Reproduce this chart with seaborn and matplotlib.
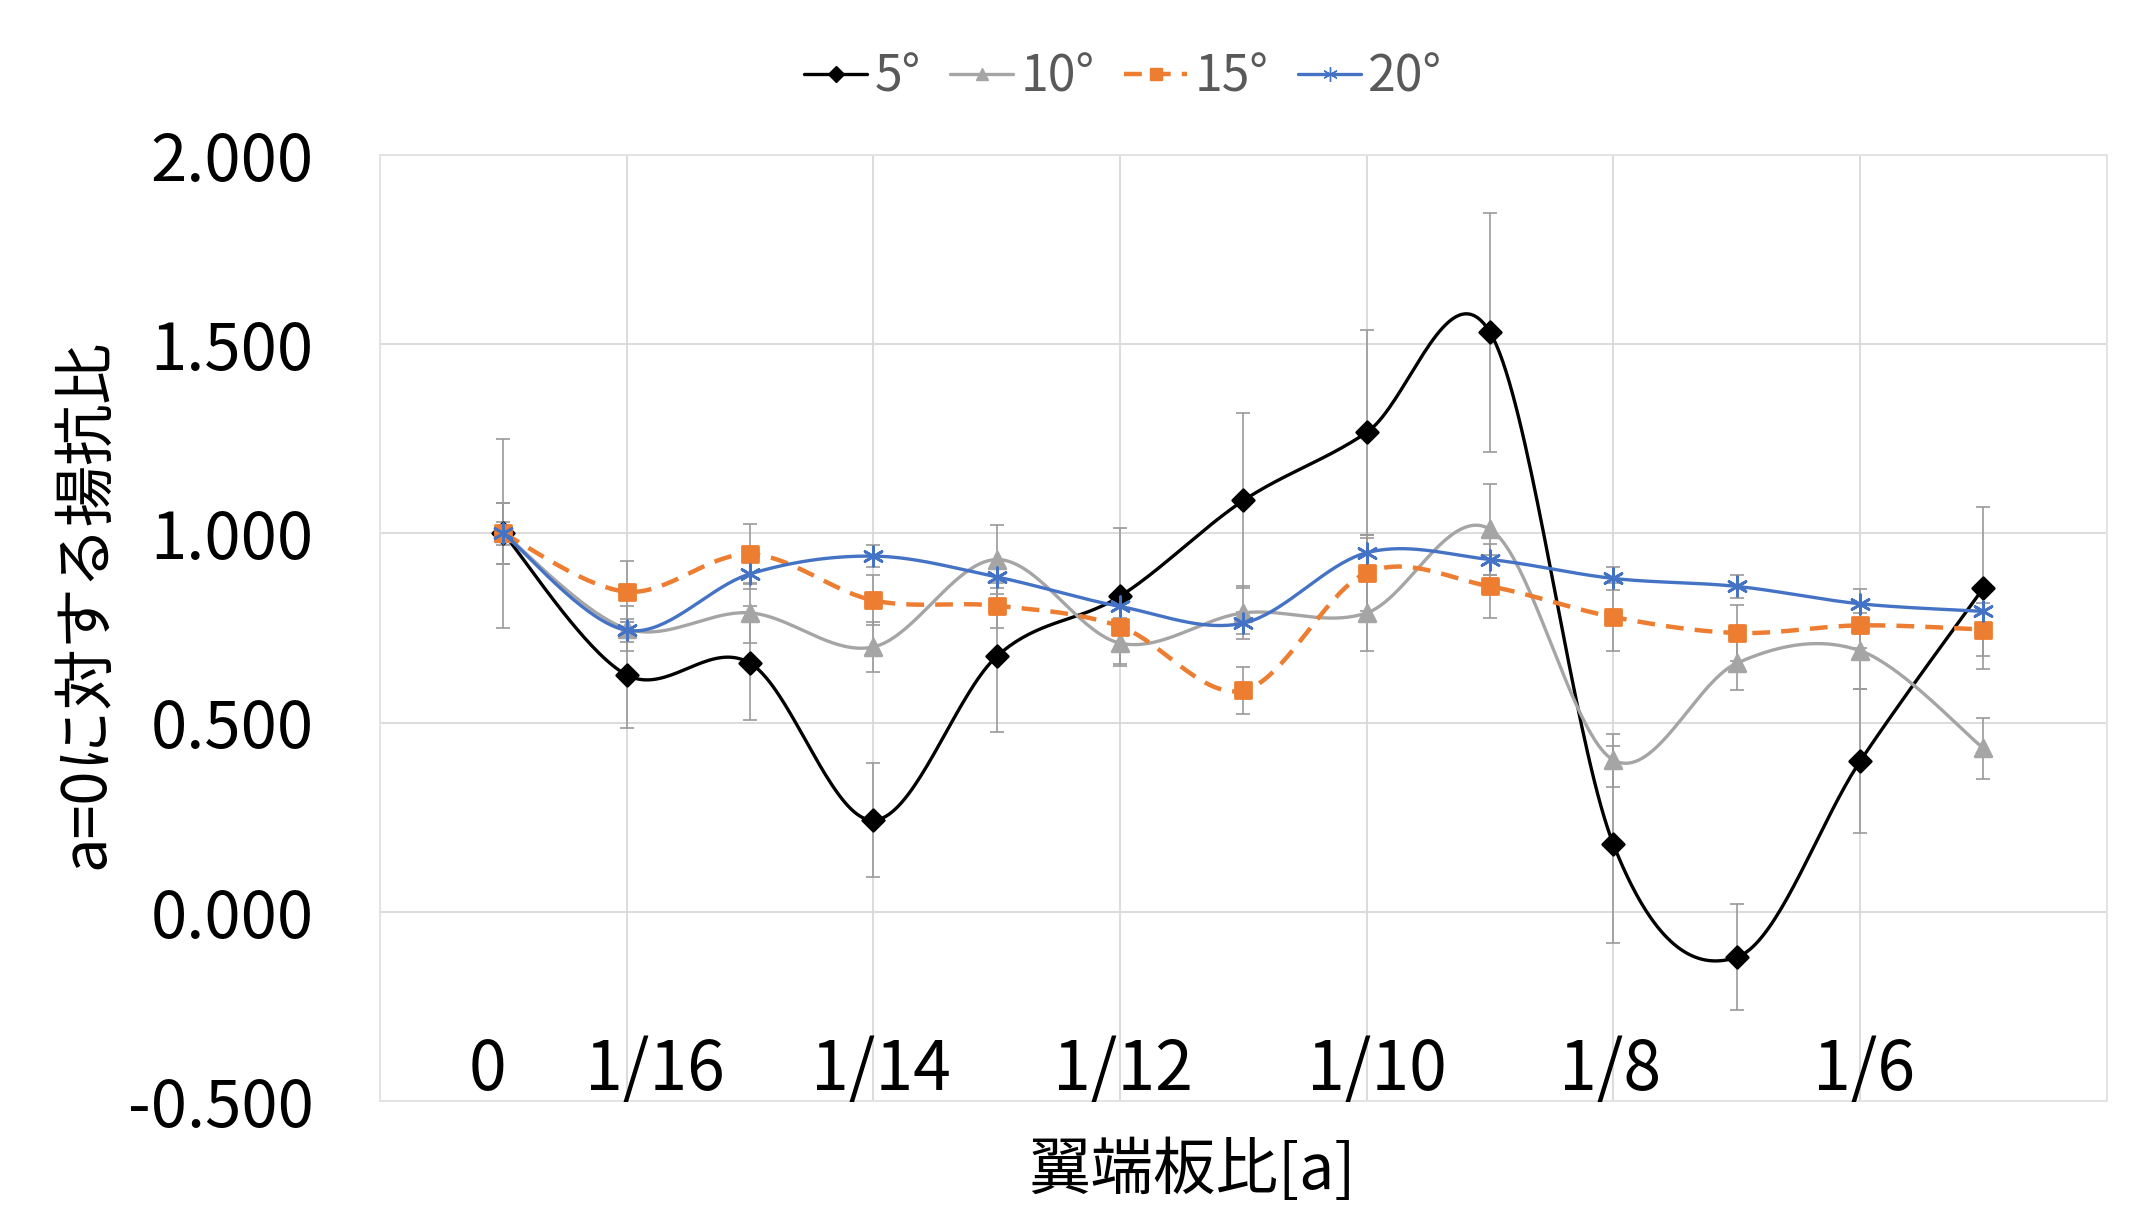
import numpy as np
import pandas as pd
import matplotlib
matplotlib.use("Agg")
import matplotlib.pyplot as plt
from matplotlib.lines import Line2D
import seaborn as sns

# data
x_pos = [1, 2, 3, 4, 5, 6, 7, 8, 9, 10, 11, 12, 13]
series_names = ["5°", "10°", "15°", "20°"]
vals_5 = [1.000, 0.626, 0.657, 0.242, 0.675, 0.834, 1.087, 1.267, 1.531, 0.178, -0.120, 0.398, 0.856]
vals_10 = [1.000, 0.748, 0.790, 0.700, 0.931, 0.710, 0.790, 0.790, 1.011, 0.401, 0.657, 0.690, 0.432]
vals_15 = [1.000, 0.846, 0.945, 0.823, 0.809, 0.754, 0.585, 0.896, 0.860, 0.779, 0.737, 0.757, 0.746]
vals_20 = [1.000, 0.744, 0.893, 0.940, 0.885, 0.807, 0.763, 0.949, 0.931, 0.881, 0.860, 0.814, 0.794]
err_5 = [0.25, 0.14, 0.15, 0.15, 0.20, 0.18, 0.23, 0.27, 0.315, 0.26, 0.14, 0.19, 0.215]
err_10 = [0.08, 0.06, 0.08, 0.065, 0.09, 0.06, 0.07, 0.10, 0.12, 0.07, 0.07, 0.10, 0.08]
err_15 = [0.08, 0.08, 0.08, 0.066, 0.06, 0.06, 0.063, 0.10, 0.083, 0.09, 0.075, 0.06, 0.07]
err_20 = [0.03, 0.03, 0.04, 0.03, 0.03, 0.03, 0.03, 0.04, 0.04, 0.03, 0.03, 0.04, 0.05]

cat_labels = ["0", "1/16", "1/14", "1/12", "1/10", "1/8", "1/6"]
cat_label_x = [0.87, 2.23, 4.06, 6.02, 8.08, 9.97, 12.03]


def smooth_curve(xs, ys, n=40):
    """Excel-like smoothed line (Bezier through points, Catmull-Rom tangents)."""
    p = np.column_stack([xs, ys]).astype(float)
    out = []
    t = np.linspace(0, 1, n)[:, None]
    for i in range(len(p) - 1):
        p0 = p[i - 1] if i > 0 else p[i]
        p1, p2 = p[i], p[i + 1]
        p3 = p[i + 2] if i + 2 < len(p) else p[i + 1]
        c1 = p1 + (p2 - p0) / 6
        c2 = p2 - (p3 - p1) / 6
        seg = ((1 - t) ** 3) * p1 + 3 * ((1 - t) ** 2) * t * c1 + 3 * (1 - t) * t ** 2 * c2 + t ** 3 * p2
        out.append(seg if i == 0 else seg[1:])
    out = np.vstack(out)
    return out[:, 0], out[:, 1]


sns.set_theme(style="white")
plt.rcParams['font.family'] = ['Noto Sans CJK JP', 'DejaVu Sans']

styles = {
    "5°": dict(color="#000000", marker="D", ms=11, ls="-", lw=2.4),
    "10°": dict(color="#a5a5a5", marker="^", ms=12, ls="-", lw=2.4),
    "15°": dict(color="#ed7d31", marker="s", ms=11, ls=(0, (4, 2.5)), lw=3.2),
    "20°": dict(color="#4472c4", marker=(6, 2, 0), ms=14, ls="-", lw=2.4),
}
values = {"5°": vals_5, "10°": vals_10, "15°": vals_15, "20°": vals_20}
errors = {"5°": err_5, "10°": err_10, "15°": err_15, "20°": err_20}

fig = plt.figure(figsize=(21.52, 12.09), dpi=100)
ax = fig.add_axes([0.1766, 0.0893, 0.8024, 0.7825])

# error bars first, underneath the lines
for name in series_names:
    ax.errorbar(x_pos, values[name], yerr=errors[name], fmt="none",
                ecolor="#9a9a9a", elinewidth=1.2, capsize=5, capthick=1.2, zorder=2)

for k, name in enumerate(series_names):
    st = styles[name]
    sx, sy = smooth_curve(x_pos, values[name])
    sns.lineplot(x=sx, y=sy, sort=False, ax=ax, color=st["color"], lw=st["lw"],
                 linestyle=st["ls"], zorder=3 + k, estimator=None)
    df = pd.DataFrame({"x": x_pos, "y": values[name]})
    sns.scatterplot(data=df, x="x", y="y", ax=ax, marker=st["marker"], s=st["ms"] ** 2,
                    color=st["color"], edgecolor=st["color"], linewidth=2, zorder=4 + k)

ax.set_xlim(0, 14)
ax.set_ylim(-0.5, 2.0)
ax.set_xticks(np.arange(0, 15, 2))
ax.set_yticks(np.arange(-0.5, 2.01, 0.5))
ax.set_yticklabels([f"{v:.3f}" for v in np.arange(-0.5, 2.01, 0.5)])
ax.tick_params(axis="x", length=0, labelbottom=False)
ax.tick_params(axis="y", length=0, labelsize=47, pad=48, labelcolor="#000000")
ax.grid(True, color="#d9d9d9", lw=1.3)
for sp in ax.spines.values():
    sp.set_color("#e3e3e3")
    sp.set_linewidth(1.3)

for lab, xv in zip(cat_labels, cat_label_x):
    ax.text(xv, -0.42, lab, ha="center", va="center", fontsize=49, color="#000000", zorder=10)

ax.set_xlabel("")
ax.set_ylabel("a=0に対する揚抗比", fontsize=44, color="#000000")
ax.yaxis.set_label_coords(-0.152, 0.525)
ax.text(0.47, -0.074, "翼端板比[a]", transform=ax.transAxes, ha="center", va="center",
        fontsize=45, color="#000000")

handles = []
for name in series_names:
    st = styles[name]
    handles.append(Line2D([0], [0], color=st["color"], lw=st["lw"], linestyle=st["ls"],
                          marker=st["marker"], ms=st["ms"] * 0.75, mfc=st["color"], mec=st["color"]))
fig.legend(handles, series_names, loc="upper center", bbox_to_anchor=(0.522, 0.995), ncol=4,
           frameon=False, fontsize=36, labelcolor="#595959", handlelength=1.25,
           handletextpad=0.15, columnspacing=0.6)

plt.savefig("out.png", dpi=100, facecolor="white")
